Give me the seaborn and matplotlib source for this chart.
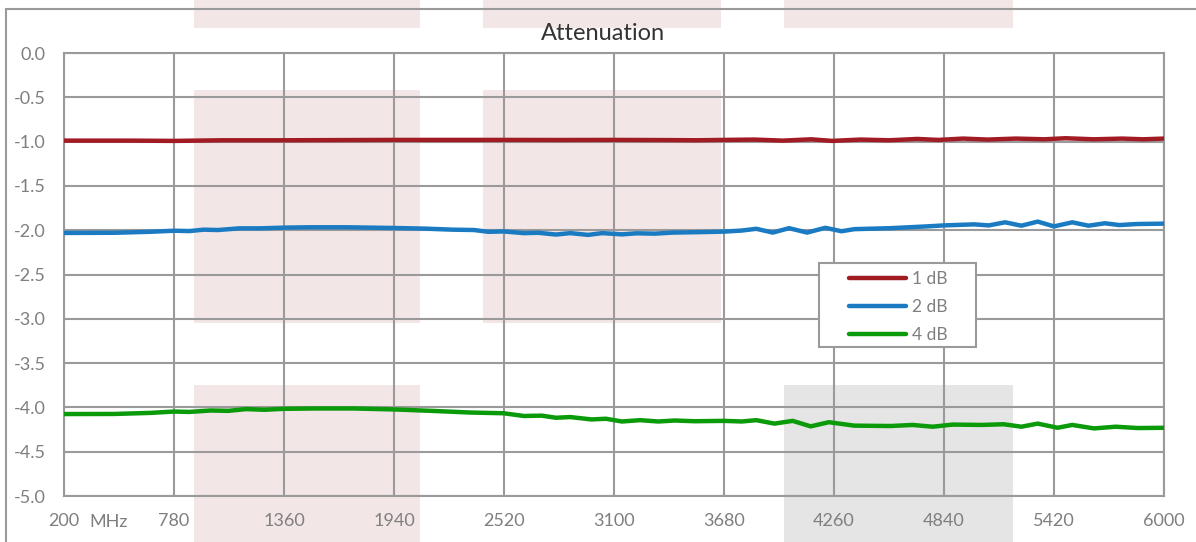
import pandas as pd
import numpy as np
from matplotlib import pyplot as plt
from matplotlib.patches import Rectangle
import seaborn as sns

# values (MHz, dB)
red_mhz = [200, 554, 780, 1039, 1360, 1650, 1940, 2230, 2520, 2810, 3100, 3390, 3538, 3680,
           3840, 3990, 4140, 4250, 4400, 4550, 4700, 4810, 4940, 5070, 5220, 5370, 5480,
           5630, 5780, 5890, 6000]
red_db = [-0.989, -0.989, -0.992, -0.985, -0.985, -0.983, -0.981, -0.981, -0.981, -0.982,
          -0.981, -0.983, -0.985, -0.981, -0.977, -0.989, -0.974, -0.992, -0.977, -0.985,
          -0.970, -0.981, -0.966, -0.977, -0.966, -0.974, -0.962, -0.974, -0.966, -0.974,
          -0.966]

blue_mhz = [200, 466, 654, 780, 861, 936, 1011, 1124, 1236, 1360, 1499, 1687, 1940, 2100,
            2250, 2362, 2437, 2518, 2625, 2700, 2794, 2869, 2963, 3038, 3142, 3219, 3314,
            3410, 3525, 3680, 3774, 3850, 3937, 4023, 4118, 4214, 4300, 4367, 4559, 4750,
            4838, 4999, 5076, 5162, 5248, 5334, 5420, 5516, 5602, 5688, 5765, 5860, 6000]
blue_db = [-2.031, -2.029, -2.018, -2.006, -2.010, -1.994, -1.998, -1.979, -1.979, -1.971,
           -1.967, -1.967, -1.975, -1.982, -1.994, -1.998, -2.018, -2.014, -2.033, -2.029,
           -2.049, -2.033, -2.053, -2.033, -2.047, -2.035, -2.039, -2.027, -2.023, -2.016,
           -2.004, -1.984, -2.027, -1.977, -2.027, -1.973, -2.012, -1.988, -1.977, -1.957,
           -1.946, -1.934, -1.946, -1.911, -1.949, -1.903, -1.957, -1.911, -1.949, -1.922,
           -1.942, -1.930, -1.926]

green_mhz = [200, 466, 654, 780, 861, 974, 1067, 1161, 1255, 1360, 1536, 1724, 1940, 2137,
             2344, 2518, 2625, 2719, 2794, 2869, 2982, 3057, 3142, 3238, 3333, 3420, 3525,
             3680, 3774, 3850, 3946, 4042, 4137, 4233, 4367, 4559, 4674, 4780, 4886, 5039,
             5154, 5248, 5334, 5439, 5516, 5631, 5746, 5861, 6000]
green_db = [-4.075, -4.074, -4.062, -4.047, -4.051, -4.035, -4.039, -4.019, -4.027, -4.016,
            -4.012, -4.012, -4.023, -4.039, -4.058, -4.066, -4.097, -4.093, -4.117, -4.109,
            -4.136, -4.128, -4.159, -4.144, -4.159, -4.148, -4.156, -4.152, -4.159, -4.144,
            -4.183, -4.152, -4.214, -4.167, -4.206, -4.210, -4.198, -4.218, -4.194, -4.198,
            -4.190, -4.218, -4.183, -4.230, -4.198, -4.237, -4.218, -4.233, -4.230]

series_names = ['1 dB', '2 dB', '4 dB']
x_ticks = [200, 780, 1360, 1940, 2520, 3100, 3680, 4260, 4840, 5420, 6000]
y_ticks = [-5.0, -4.5, -4.0, -3.5, -3.0, -2.5, -2.0, -1.5, -1.0, -0.5, 0.0]

# background bands: (x0, x1, y0, y1, kind)
bands = [
    (885, 2077, 0.28, 0.8, 'pink'), (2409, 3664, 0.28, 0.8, 'pink'), (3996, 5204, 0.28, 0.8, 'pink'),
    (885, 2077, -3.047, -0.418, 'pink'), (2409, 3664, -3.047, -0.418, 'pink'),
    (885, 2077, -5.8, -3.747, 'pink'), (3996, 5204, -5.8, -3.747, 'gray'),
]

frames = []
for name, mhz, db in zip(series_names, [red_mhz, blue_mhz, green_mhz], [red_db, blue_db, green_db]):
    frames.append(pd.DataFrame({'MHz': mhz, 'dB': db, 'series': name}))
df = pd.concat(frames, ignore_index=True)

sns.set_style('white')
plt.rcParams['font.family'] = ['Lato', 'DejaVu Sans']

W, H = 1196, 542
fig = plt.figure(figsize=(W / 100, H / 100), dpi=100)
ax = fig.add_axes([64 / W, 46 / H, 1100 / W, 443 / H])

band_colors = {'pink': '#f2e6e6', 'gray': '#e5e5e5'}
for x0, x1, y0, y1, kind in bands:
    ax.add_patch(Rectangle((x0, y0), x1 - x0, y1 - y0, facecolor=band_colors[kind],
                           edgecolor='none', clip_on=False, zorder=0))

# outer chart border
fig.add_artist(Rectangle((6 / W, -0.1), 1.2, (H - 9) / H + 0.1, transform=fig.transFigure,
                         facecolor='none', edgecolor='#9a9a9a', linewidth=1.5, zorder=1))

palette = {'1 dB': '#a01c22', '2 dB': '#1a7bc2', '4 dB': '#0a9a0a'}
sns.lineplot(data=df, x='MHz', y='dB', hue='series', palette=palette, linewidth=3.2,
             sort=True, ax=ax, zorder=3, solid_joinstyle='round', solid_capstyle='round')

ax.set_xlim(200, 6000)
ax.set_ylim(-5.0, 0.0)
ax.set_xticks(x_ticks)
ax.set_xticklabels([str(t) for t in x_ticks])
ax.set_yticks(y_ticks)
ax.set_yticklabels([f'{t:.1f}' for t in y_ticks])
ax.set_xlabel('')
ax.set_ylabel('')
ax.set_facecolor('none')
ax.grid(True, color='#9a9a9a', linewidth=1.5, zorder=1)
ax.set_axisbelow(True)
for sp in ax.spines.values():
    sp.set_color('#9a9a9a')
    sp.set_linewidth(1.5)
ax.tick_params(axis='both', length=0, labelsize=13, labelcolor='#7f7f7f')
ax.tick_params(axis='x', pad=12.5)
ax.tick_params(axis='y', pad=13)

# unit next to the first x tick label
ax.text(89 / W, 1 - 522 / H, 'MHz', transform=fig.transFigure, fontsize=13,
        color='#7f7f7f', ha='left', va='center')

fig.text(603 / W, 1 - 33 / H, 'Attenuation', ha='center', va='center',
         fontsize=17, color='#333333')

# legend entries without frame, frame drawn as a box
sns.move_legend(ax, loc='upper left', bbox_to_anchor=((849 - 64) / 1100, (496 - 271) / 443),
                title=None, frameon=False, fontsize=12.5, labelcolor='#7f7f7f',
                handlelength=3.3, borderpad=0, labelspacing=0.68, borderaxespad=0,
                handletextpad=0.35)
ax.add_patch(Rectangle(((819 - 64) / 1100, (496 - 347) / 443), 157 / 1100, 84 / 443,
                       transform=ax.transAxes, facecolor='white', edgecolor='#9a9a9a',
                       linewidth=1.5, zorder=4))
ax.get_legend().set_zorder(5)

fig.savefig('out.png', dpi=100)
